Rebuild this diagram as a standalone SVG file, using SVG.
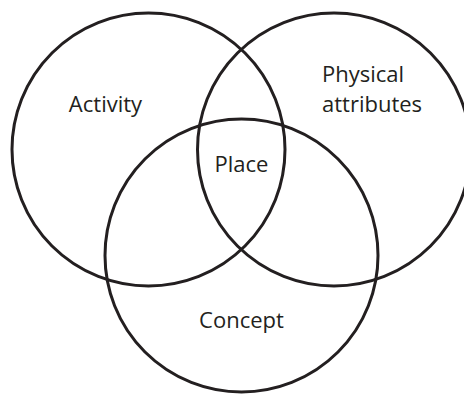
<svg xmlns="http://www.w3.org/2000/svg" width="464" height="394" viewBox="0 0 464 394">
<style>
.c{fill:none;stroke:#231f20;stroke-width:3}
.t{font-family:"Open Sans","Liberation Sans",sans-serif;font-size:22px;fill:#231f20}
</style>
<rect width="464" height="394" fill="#fff"/>
<g id="activity"><circle class="c" cx="148.5" cy="149.5" r="136.5"/><text class="t" x="105.5" y="112" text-anchor="middle">Activity</text></g>
<g id="physical"><circle class="c" cx="334" cy="149.5" r="136.5"/><text class="t" x="322" y="82">Physical</text><text class="t" x="322" y="112">attributes</text></g>
<g id="concept"><circle class="c" cx="241.5" cy="255.5" r="136.5"/><text class="t" x="241.5" y="328" text-anchor="middle">Concept</text></g>
<g id="place"><text class="t" x="241.5" y="172" text-anchor="middle">Place</text></g>
<g id="connectors"/>
</svg>
